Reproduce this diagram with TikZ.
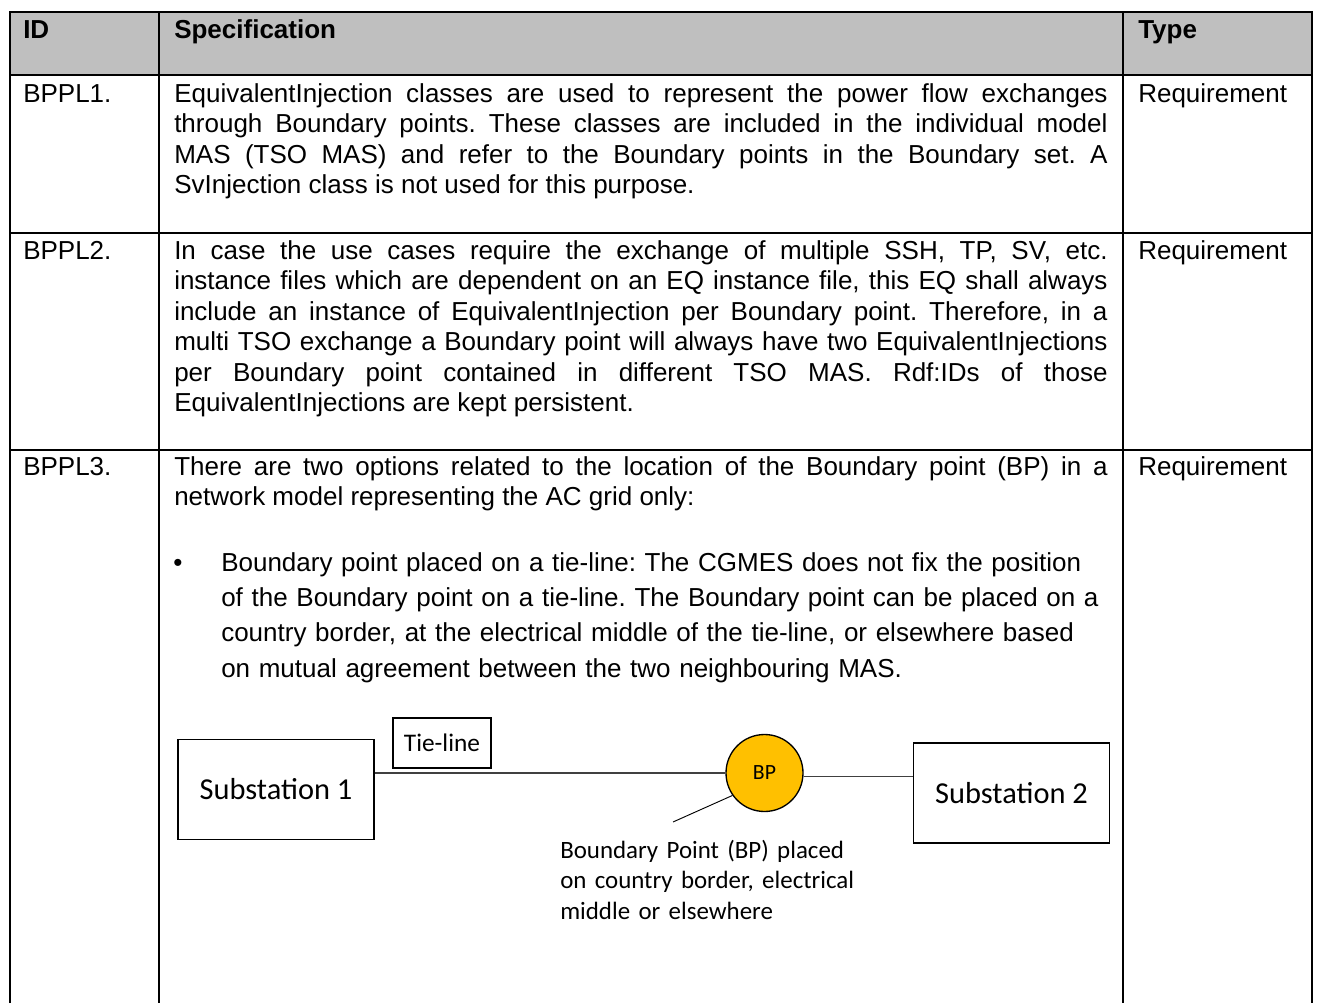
\documentclass[tikz,border=0pt]{standalone}
\usepackage{fontspec}
\setmainfont{Liberation Sans}
\newfontfamily\calibri{Carlito}
\usetikzlibrary{positioning}
\definecolor{hdrgray}{RGB}{191,191,191}
\definecolor{bpyellow}{RGB}{255,192,0}
\frenchspacing

\begin{document}
\begin{tikzpicture}
  [x=0.75pt,y=-0.75pt,
   every node/.style={inner sep=0pt,font=\fontsize{19.5}{22.9}\selectfont},
   grid/.style={line width=1.3pt},
   hdr/.style={anchor=base west,font=\fontsize{19.5}{22.9}\selectfont\bfseries},
   cell/.style={anchor=base west},
   para/.style={anchor=base west,text width=700pt,align=justify},
   substation/.style={draw,line width=1.1pt,minimum width=147pt,minimum height=75pt,
     font=\calibri\fontsize{22.8}{27}\selectfont},
   wire/.style={draw=black!75,line width=0.8pt}]
  \useasboundingbox (0,0) rectangle (1317,1003);

  % table frame
  \fill[hdrgray] (10,12) rectangle (1312,75);
  \draw[grid] (10,1003) -- (10,12) -- (1312,12) -- (1312,1003);
  \foreach \x in {159,1123}
    \draw[grid] (\x,12) -- (\x,1003);
  \foreach \y in {75,233,450}
    \draw[grid] (10,\y) -- (1312,\y);

  % header
  \node[hdr] (hid) at (23,38) {ID};
  \node[hdr] (hspec) at (174,38) {Specification};
  \node[hdr] (htype) at (1138,38) {Type};

  % ids and types
  \foreach \y/\n in {102/1,259/2,475/3} {
    \node[cell] (id\n) at (23,\y) {BPPL\n.};
    \node[cell] (type\n) at (1138,\y) {Requirement};
  }

  % specifications
  \node[para] (spec1) at (174,102) {EquivalentInjection classes are used to represent the power flow exchanges\linebreak
    through Boundary points. These classes are included in the individual model\linebreak
    MAS (TSO MAS) and refer to the Boundary points in the Boundary set. A\linebreak
    SvInjection class is not used for this purpose.};
  \node[para] (spec2) at (174,259) {In case the use cases require the exchange of multiple SSH, TP, SV, etc.\linebreak
    instance files which are dependent on an EQ instance file, this EQ shall always\linebreak
    include an instance of EquivalentInjection per Boundary point. Therefore, in a\linebreak
    multi TSO exchange a Boundary point will always have two EquivalentInjections\linebreak
    per Boundary point contained in different TSO MAS. Rdf:IDs of those\linebreak
    EquivalentInjections are kept persistent.};
  \node[para] (spec3) at (174,475) {There are two options related to the location of the Boundary point (BP) in a\linebreak
    network model representing the AC grid only:};
  \node[cell] (bullet) at (173,571) {•};
  \node[cell,text width=750pt,align=left,font=\fontsize{19.5}{26.5}\selectfont] (option1) at (221,571)
    {Boundary point placed on a tie-line: The CGMES does not fix the position\\
     of the Boundary point on a tie-line. The Boundary point can be placed on a\\
     country border, at the electrical middle of the tie-line, or elsewhere based\\
     on mutual agreement between the two neighbouring MAS.};

  % tie-line sketch
  \node[substation] (sub1) at (276,789.5) {Substation 1};
  \node[substation] (sub2) at (1011.5,793) {Substation 2};
  \node[draw,line width=0.8pt,minimum width=73.5pt,minimum height=37.5pt,
    font=\calibri\fontsize{19}{23}\selectfont] (tielabel) at (442,743) {Tie-line};
  \node[circle,draw,fill=bpyellow,line width=1pt,minimum size=57.75pt,
    font=\calibri\fontsize{16.3}{19}\selectfont] (bp) at (764.5,773) {BP};
  \node[cell,text width=250pt,align=left,font=\calibri\fontsize{18.7}{22.9}\selectfont] (bpnote) at (560,858)
    {Boundary Point (BP) placed\\ on country border, electrical\\ middle or elsewhere};
  \coordinate (notetip) at (673,822);

  \draw[wire] (sub1.east |- bp.west) -- (bp.west);
  \draw[wire] (bp.-5) -- (bp.-5 -| sub2.west);
  \draw[line width=0.7pt] (notetip) -- (bp.215);
\end{tikzpicture}
\end{document}
